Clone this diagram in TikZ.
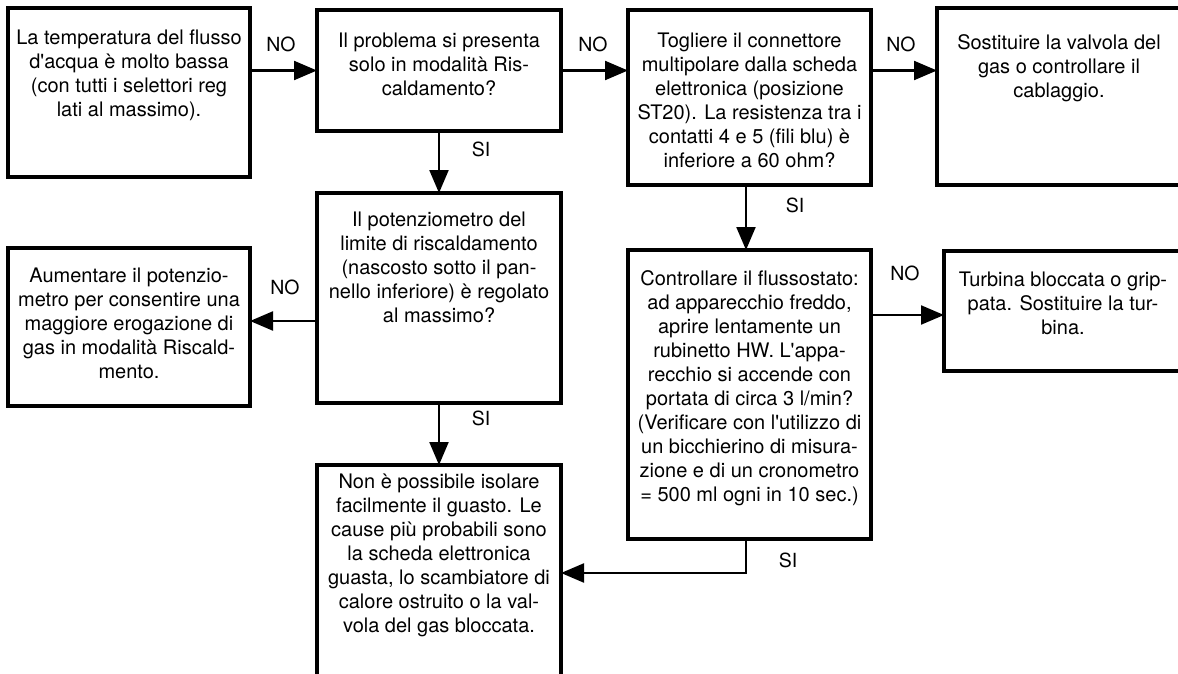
\documentclass[tikz,border=0pt]{standalone}
\usepackage{fontspec}
\setmainfont{TeX Gyre Heros}
\usetikzlibrary{arrows.meta}
\tikzset{
  box/.style={draw, line width=3.2pt, rectangle, inner sep=0pt, outer sep=0pt},
  txt/.style={anchor=north, align=center, inner sep=0pt, font=\fontsize{20pt}{24pt}\selectfont},
  lbl/.style={inner sep=0pt, font=\fontsize{19.5pt}{24pt}\selectfont},
  arr/.style={line width=2.2pt, -{Triangle[length=23pt,width=19pt]}},
  plain/.style={line width=2.2pt}
}
\newcommand{\q}{\textquotesingle}
\begin{document}
\begin{tikzpicture}[x=1pt,y=-1pt]
\useasboundingbox (0,0) rectangle (1178,674);
\fill[white] (0,0) rectangle (1178,674);
\clip (0,0) rectangle (1178,674);

% boxes
\node[box, minimum width=242pt, minimum height=169pt] (A) at (129,92.5) {};
\node[box, minimum width=244pt, minimum height=121pt] (B) at (439,70.5) {};
\node[box, minimum width=243pt, minimum height=175pt] (C) at (749.5,97.5) {};
\node[box, minimum width=244pt, minimum height=177pt] (D) at (1059,96.5) {};
\node[box, minimum width=242pt, minimum height=158pt] (F) at (129,327) {};
\node[box, minimum width=244pt, minimum height=210pt] (E) at (439,298) {};
\node[box, minimum width=243pt, minimum height=289pt] (H) at (749.5,394.5) {};
\node[box, minimum width=238pt, minimum height=120pt] (I) at (1063,311) {};
\node[box, minimum width=244pt, minimum height=255pt] (G) at (439,592.5) {};

% texts
\node[txt] (At) at (129,27.2) {\strut La temperatura del flusso\\d\q acqua è molto bassa\\(con tutti i selettori reg\\lati al massimo).};
\node[txt] (Bt) at (439,30.2) {\strut Il problema si presenta\\solo in modalità Ris-\\caldamento?};
\node[txt] (Ct) at (749.5,30.2) {\strut Togliere il connettore\\multipolare dalla scheda\\elettronica (posizione\\ST20). La resistenza tra i\\contatti 4 e 5 (fili blu) è\\inferiore a 60 ohm?};
\node[txt] (Dt) at (1059,32.2) {\strut Sostituire la valvola del\\gas o controllare il\\cablaggio.};
\node[txt] (Et) at (439,209.2) {\strut Il potenziometro del\\limite di riscaldamento\\(nascosto sotto il pan-\\nello inferiore) è regolato\\al massimo?};
\node[txt] (Ft) at (129,265.2) {\strut Aumentare il potenzio-\\metro per consentire una\\maggiore erogazione di\\gas in modalità Riscald-\\mento.};
\node[txt] (Ht) at (749.5,268.2) {\strut Controllare il flussostato:\\ad apparecchio freddo,\\aprire lentamente un\\rubinetto HW. L\q appa-\\recchio si accende con\\portata di circa 3 l/min?\\(Verificare con l\q utilizzo di\\un bicchierino di misura-\\zione e di un cronometro\\= 500 ml ogni in 10 sec.)};
\node[txt] (It) at (1063,269.2) {\strut Turbina bloccata o grip-\\pata. Sostituire la tur-\\bina.};
\node[txt] (Gt) at (439,471.2) {\strut Non è possibile isolare\\facilmente il guasto. Le\\cause più probabili sono\\la scheda elettronica\\guasta, lo scambiatore di\\calore ostruito o la val-\\vola del gas bloccata.};

% connector levels
\coordinate (yEF) at (0,321);
\coordinate (yHI) at (0,315);
\coordinate (yHG) at (0,573);

% connectors
\draw[arr] (A.east |- B.west) -- (B.west);
\draw[arr] (B.east) -- (C.west |- B.east);
\draw[arr] (C.east |- B.east) -- (D.west |- B.east);
\draw[arr] (B.south) -- (E.north);
\draw[arr] ([xshift=-3.5pt]C.south) -- ([xshift=-3.5pt]H.north);
\draw[arr] (E.west |- yEF) -- (F.east |- yEF);
\draw[arr] (H.east |- yHI) -- (I.west |- yHI);
\draw[arr] (E.south) -- (G.north);
\draw[arr] ([xshift=-3.5pt]H.south) |- (G.east |- yHG);

% labels
\node[lbl] (l1) at (281,44) {NO};
\node[lbl] (l2) at (593,44) {NO};
\node[lbl] (l3) at (901,44) {NO};
\node[lbl] (l4) at (481,149) {SI};
\node[lbl] (l5) at (795,205) {SI};
\node[lbl] (l6) at (285,287) {NO};
\node[lbl] (l7) at (905,273) {NO};
\node[lbl] (l8) at (481,418) {SI};
\node[lbl] (l9) at (788,560) {SI};
\end{tikzpicture}
\end{document}
